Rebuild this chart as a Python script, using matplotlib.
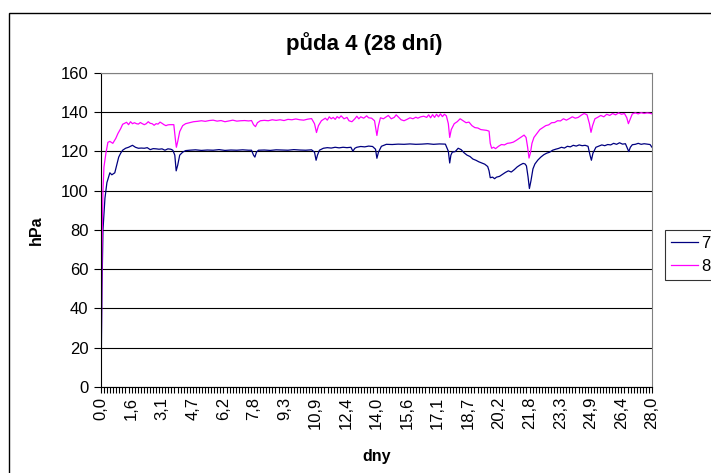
import numpy as np
import matplotlib
matplotlib.use("Agg")
import matplotlib.pyplot as plt
from matplotlib.patches import Rectangle

plt.rcParams['font.family'] = ['Liberation Sans', 'DejaVu Sans']

# series 7 (navy) - pressure in hPa vs. time in days
days7 = [0.00, 0.05, 0.10, 0.20, 0.30, 0.45, 0.55, 0.70, 0.80, 0.90, 1.00, 1.10,
         1.25, 1.40, 1.60, 1.75, 1.90, 2.05, 2.20, 2.35, 2.50, 2.65, 2.80, 2.95,
         3.10, 3.25, 3.40, 3.55, 3.65, 3.75, 3.82, 3.90, 4.00, 4.15, 4.30, 4.50,
         4.80, 5.10, 5.40, 5.70, 6.00, 6.30, 6.60, 6.90, 7.20, 7.50, 7.65, 7.75,
         7.82, 7.90, 8.00, 8.30, 8.60, 8.90, 9.20, 9.50, 9.80, 10.10, 10.40, 10.70,
         10.85, 10.93, 11.00, 11.10, 11.30, 11.50, 11.70, 11.90, 12.10, 12.30, 12.50,
         12.70, 12.80, 12.90, 13.00, 13.20, 13.40, 13.60, 13.80, 13.95, 14.02, 14.10,
         14.25, 14.50, 14.80, 15.10, 15.40, 15.70, 16.00, 16.30, 16.60, 16.90, 17.20,
         17.50, 17.65, 17.72, 17.78, 17.85, 18.00, 18.15, 18.30, 18.45, 18.60, 18.75,
         18.90, 19.05, 19.20, 19.35, 19.50, 19.65, 19.72, 19.78, 19.90, 20.00, 20.10,
         20.25, 20.40, 20.55, 20.70, 20.85, 21.00, 21.15, 21.30, 21.45, 21.55, 21.62,
         21.70, 21.77, 21.85, 21.95, 22.05, 22.20, 22.35, 22.50, 22.65, 22.80, 22.95,
         23.10, 23.25, 23.40, 23.55, 23.70, 23.85, 24.00, 24.15, 24.30, 24.45, 24.60,
         24.75, 24.85, 24.92, 25.00, 25.15, 25.30, 25.45, 25.60, 25.75, 25.90, 26.05,
         26.20, 26.35, 26.50, 26.65, 26.75, 26.82, 26.90, 27.00, 27.15, 27.30, 27.45,
         27.60, 27.75, 27.90, 28.00]
hpa7 = [0.0, 50.0, 80.0, 96.0, 104.0, 109.0, 108.0, 109.0, 113.0, 117.0, 119.0, 120.5,
        121.5, 122.0, 123.0, 122.0, 121.5, 121.6, 121.5, 121.8, 120.8, 121.3, 121.2, 121.0,
        121.2, 120.5, 121.2, 121.0, 120.5, 118.0, 110.0, 113.0, 118.0, 119.5, 120.3, 120.5,
        120.7, 120.4, 120.6, 120.5, 120.8, 120.4, 120.6, 120.5, 120.7, 120.5, 120.5, 118.0,
        117.0, 119.5, 120.5, 120.6, 120.4, 120.7, 120.6, 120.5, 120.8, 120.6, 120.5, 120.7,
        119.5, 115.4, 118.0, 120.5, 121.5, 121.8, 121.6, 122.0, 121.7, 122.0, 121.8,
        122.0, 120.0, 121.5, 122.0, 122.4, 122.2, 122.6, 122.4, 121.0, 116.4, 119.5,
        122.5, 123.5, 123.4, 123.6, 123.5, 123.7, 123.5, 123.6, 123.8, 123.5, 123.7,
        123.6, 120.0, 114.0, 118.0, 119.5, 119.8, 121.5, 120.8, 119.2, 118.0, 117.3,
        116.0, 115.4, 114.6, 114.0, 113.4, 112.2, 110.0, 106.5, 106.8, 106.0, 106.8,
        107.2, 108.2, 109.2, 110.0, 109.4, 110.6, 112.0, 113.0, 113.8, 113.5, 112.5,
        107.0, 101.0, 105.0, 111.0, 113.5, 115.5, 117.0, 118.2, 119.0, 119.5, 120.5,
        121.0, 121.4, 122.0, 121.6, 122.5, 122.2, 123.0, 122.6, 123.2, 122.8, 123.0,
        122.5, 118.0, 115.4, 119.0, 122.0, 122.6, 123.2, 122.8, 123.4, 123.2, 124.0,
        123.5, 124.3, 123.6, 123.8, 121.5, 119.8, 122.0, 123.3, 123.5, 124.0, 123.5,
        123.8, 123.6, 123.4, 122.0]

# series 8 (magenta)
days8 = [0.00, 0.05, 0.10, 0.15, 0.25, 0.35, 0.45, 0.60, 0.75, 0.86, 1.00, 1.10,
         1.30, 1.40, 1.50, 1.60, 1.70, 1.80, 1.90, 2.00, 2.10, 2.20, 2.30, 2.40, 2.50,
         2.60, 2.70, 2.80, 2.90, 3.00, 3.10, 3.20, 3.30, 3.40, 3.50, 3.60, 3.70, 3.78,
         3.83, 3.90, 4.00, 4.15, 4.30, 4.50, 4.70, 4.90, 5.10, 5.30, 5.50, 5.70, 5.90,
         6.10, 6.30, 6.50, 6.70, 6.90, 7.10, 7.30, 7.50, 7.65, 7.75, 7.85, 7.95, 8.10,
         8.30, 8.50, 8.70, 8.90, 9.10, 9.30, 9.50, 9.70, 9.90, 10.10, 10.30, 10.50,
         10.70, 10.85, 10.95, 11.05, 11.20, 11.40, 11.50, 11.60, 11.70, 11.80, 11.90,
         12.00, 12.10, 12.20, 12.35, 12.50, 12.60, 12.75, 12.90, 13.00, 13.10, 13.20,
         13.35, 13.50, 13.60, 13.75, 13.90, 13.97, 14.02, 14.10, 14.20, 14.35, 14.50,
         14.60, 14.75, 14.90, 15.00, 15.10, 15.25, 15.40, 15.55, 15.70, 15.85, 16.00,
         16.10, 16.25, 16.40, 16.55, 16.65, 16.75, 16.85, 16.95, 17.05, 17.15, 17.25,
         17.35, 17.45, 17.55, 17.65, 17.72, 17.80, 17.95, 18.10, 18.25, 18.40, 18.55,
         18.70, 18.85, 19.00, 19.15, 19.30, 19.45, 19.60, 19.72, 19.78, 19.85, 19.95,
         20.05, 20.20, 20.35, 20.50, 20.65, 20.80, 20.95, 21.10, 21.25, 21.40, 21.50,
         21.60, 21.68, 21.75, 21.82, 21.90, 22.00, 22.15, 22.30, 22.45, 22.60, 22.75,
         22.90, 23.05, 23.20, 23.35, 23.50, 23.65, 23.80, 23.95, 24.10, 24.25, 24.40,
         24.55, 24.70, 24.82, 24.90, 24.98, 25.10, 25.25, 25.40, 25.55, 25.70, 25.85,
         26.00, 26.15, 26.30, 26.45, 26.60, 26.72, 26.80, 26.88, 27.00, 27.15, 27.30,
         27.45, 27.60, 27.75, 27.90, 28.00]
hpa8 = [0.0, 70.0, 100.0, 112.0, 119.0, 124.5, 125.0, 124.0, 126.5, 129.0, 131.5, 133.7,
        134.7, 133.5, 135.0, 134.0, 134.5, 134.0, 133.8, 134.6, 134.0, 133.5, 134.0, 135.0,
        134.2, 134.0, 133.2, 134.0, 133.8, 134.8, 134.2, 133.5, 133.0, 133.4, 133.5, 133.5,
        133.5, 126.0, 122.0, 125.0, 130.0, 133.0, 134.0, 134.5, 135.0, 135.2, 135.5, 135.2,
        135.6, 135.8, 135.3, 135.6, 135.0, 135.4, 135.8, 135.3, 135.5, 135.6, 135.4, 135.6,
        133.5, 132.5, 134.5, 135.5, 135.7, 135.5, 136.0, 135.7, 136.0, 135.6, 136.2, 136.0,
        136.4, 136.0, 135.8, 136.3, 136.6, 134.0, 129.5, 133.0, 135.5, 136.8, 135.8, 137.5,
        136.5, 137.2, 136.2, 137.6, 136.8, 138.0, 136.5, 137.2, 135.5, 135.0, 136.5, 137.8,
        136.5, 137.5, 136.8, 138.0, 137.0, 136.8, 135.5, 131.0, 128.0, 133.0, 137.0, 136.5,
        137.5, 138.2, 136.5, 137.2, 138.5, 137.5, 136.0, 135.5, 136.2, 137.0, 136.5, 137.3,
        136.8, 137.5, 137.8, 137.2, 138.5, 137.0, 138.6, 137.2, 138.8, 137.5, 139.0, 137.6,
        138.8, 138.0, 134.0, 127.0, 131.0, 134.0, 135.0, 136.5, 135.5, 134.5, 134.8, 133.0,
        132.0, 131.8, 131.0, 130.8, 130.6, 130.2, 124.0, 121.5, 122.0, 121.3, 122.5, 123.4,
        123.2, 124.0, 124.2, 124.6, 125.5, 126.5, 127.5, 128.2, 127.0, 122.0, 116.5, 119.0,
        124.0, 127.0, 129.0, 131.0, 132.0, 133.0, 133.4, 134.5, 134.6, 135.5, 135.4, 136.5,
        135.8, 136.6, 137.5, 136.8, 137.2, 138.3, 139.2, 138.5, 134.0, 129.6, 133.0, 136.5,
        137.3, 138.2, 137.5, 138.8, 138.2, 139.2, 138.5, 139.5, 138.8, 139.2, 137.0, 134.0,
        136.0, 139.0, 139.5, 139.0, 139.6, 139.2, 139.5, 139.3, 139.0]

xlabels = ['0,0', '1,6', '3,1', '4,7', '6,2', '7,8', '9,3', '10,9', '12,4', '14,0',
           '15,6', '17,1', '18,7', '20,2', '21,8', '23,3', '24,9', '26,4', '28,0']
yticks = [0, 20, 40, 60, 80, 100, 120, 140, 160]

fig = plt.figure(figsize=(7.11, 4.73), dpi=100)
# chart area frame (runs off the right and bottom edges)
fig.patches.append(Rectangle((9 / 711, -0.1), 1.2, 1 - 13 / 473 + 0.1,
                             transform=fig.transFigure, fill=False,
                             edgecolor='black', linewidth=1.0))

ax = fig.add_axes([101 / 711, 1 - 387 / 473, 551 / 711, (387 - 72.6) / 473])
ax.plot(days7, hpa7, color='#000080', linewidth=0.9, label='7')
ax.plot(days8, hpa8, color='#ff00ff', linewidth=0.9, label='8')

ax.set_xlim(0, 28)
ax.set_ylim(0, 160)
ax.set_yticks(yticks)
ax.set_yticklabels([str(v) for v in yticks], fontsize=12)
ax.set_xticks(np.linspace(0, 28, len(xlabels)))
ax.set_xticklabels(xlabels, rotation=90, fontsize=12)
ax.set_xticks(np.linspace(0, 28, 181), minor=True)
ax.tick_params(axis='x', which='both', direction='out', length=4, width=0.8, pad=3)
ax.tick_params(axis='y', direction='out', length=5, width=0.8, pad=4)
ax.yaxis.grid(True, color='black', linewidth=0.8)
ax.set_axisbelow(True)
for side in ('top', 'right'):
    ax.spines[side].set_color('#808080')
for side in ('left', 'bottom'):
    ax.spines[side].set_color('black')

ax.set_ylabel('hPa', fontsize=11.5, fontweight='bold', labelpad=12)
ax.set_xlabel('dny', fontsize=11.5, fontweight='bold', labelpad=14)
fig.text(364 / 711, 1 - 44 / 473, 'půda 4 (28 dní)', ha='center', va='center',
         fontsize=16, fontweight='bold')

leg = ax.legend(loc='upper left', bbox_to_anchor=(665 / 711, 1 - 230 / 473),
                bbox_transform=fig.transFigure, frameon=True, fancybox=False,
                fontsize=12, handlelength=1.6, handletextpad=0.2,
                borderaxespad=0, borderpad=0.35, labelspacing=0.5)
leg.get_frame().set_edgecolor('black')
leg.get_frame().set_linewidth(0.8)

fig.savefig('out.png', dpi=100)
